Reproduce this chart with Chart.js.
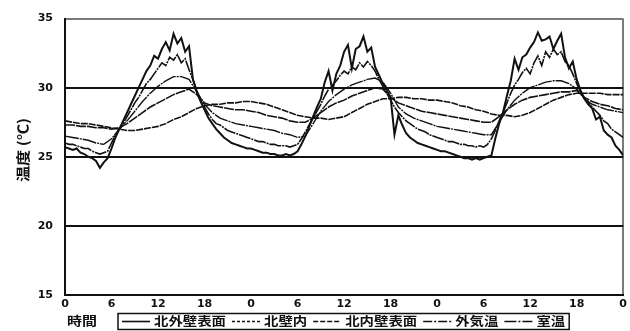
<!DOCTYPE html>
<html>
<head>
<meta charset="utf-8">
<script src="https://cdn.jsdelivr.net/npm/chart.js@4/dist/chart.umd.min.js"></script>
<style>
  html, body { margin: 0; padding: 0; background: #fff; }
  #wrap { width: 630px; height: 331px; position: relative; }
</style>
</head>
<body>
<div id="wrap"><canvas id="c" width="630" height="331"></canvas></div>
<script>
// Series names, in legend order
const seriesNames = ['北外壁表面', '北壁内', '北内壁表面', '外気温', '室温'];

// Axis ticks
const yTickValues = [15, 20, 25, 30, 35];
const xTickHours = [0, 6, 12, 18, 24, 30, 36, 42, 48, 54, 60, 66, 72];
const xTickLabels = ['0', '6', '12', '18', '0', '6', '12', '18', '0', '6', '12', '18', '0'];

// Sampling intervals (hours)
const halfHourStep = 0.5;
const hourStep = 1;

// North exterior wall surface (30-min readings, 3 days)
const northOuterSurface = [
  25.7, 25.6, 25.5, 25.6, 25.3, 25.2, 25.0, 24.9, 24.7, 24.2,
  24.6, 24.9, 25.6, 26.4, 27.0, 27.6, 28.2, 28.8, 29.4, 30.0,
  30.6, 31.2, 31.6, 32.3, 32.1, 32.8, 33.3, 32.7, 33.9, 33.2,
  33.6, 32.6, 33.0, 30.6, 29.7, 29.0, 28.4, 27.8, 27.4, 27.0,
  26.7, 26.4, 26.2, 26.0, 25.9, 25.8, 25.7, 25.6,
  25.6, 25.5, 25.4, 25.3, 25.3, 25.2, 25.2, 25.1, 25.1, 25.2,
  25.1, 25.2, 25.4, 25.9, 26.5, 27.2, 27.9, 28.6, 29.2, 30.4,
  31.2, 29.8, 31.0, 31.6, 32.6, 33.1, 31.4, 32.8, 33.0, 33.7,
  32.6, 32.9, 31.5, 30.9, 30.3, 29.8, 29.3, 26.6, 28.0, 27.3,
  26.7, 26.4, 26.2, 26.0, 25.9, 25.8, 25.7, 25.6,
  25.5, 25.4, 25.4, 25.3, 25.2, 25.1, 25.0, 24.9, 24.9, 24.8,
  24.9, 24.8, 24.9, 25.0, 25.1, 26.3, 27.4, 28.2, 29.4, 30.5,
  32.1, 31.3, 32.2, 32.4, 32.9, 33.3, 34.0, 33.4, 33.5, 33.7,
  32.8, 33.4, 33.9, 32.2, 31.4, 31.9, 30.6, 29.8, 29.2, 28.8,
  28.5, 27.7, 27.9, 26.9, 26.6, 26.4, 25.8, 25.5, 25.1
];

// Outdoor air temperature (30-min readings)
const outdoorAir = [
  26.0, 25.9, 25.9, 25.8, 25.7, 25.6, 25.6, 25.4, 25.3, 25.2,
  25.3, 25.4, 26.0, 26.6, 27.0, 27.4, 27.9, 28.4, 28.9, 29.3,
  29.8, 30.3, 30.6, 31.0, 31.4, 31.8, 31.6, 32.2, 32.0, 32.4,
  31.8, 32.1, 31.3, 30.6, 29.8, 29.1, 28.6, 28.1, 27.7, 27.4,
  27.3, 27.1, 26.9, 26.8, 26.7, 26.6, 26.5, 26.4,
  26.3, 26.2, 26.1, 26.1, 26.0, 25.9, 25.9, 25.8, 25.8, 25.8,
  25.7, 25.8, 25.9, 26.3, 26.8, 27.3, 27.8, 28.3, 28.8, 29.4,
  29.9, 30.2, 30.5, 30.9, 31.2, 31.0, 31.5, 31.3, 31.8, 31.5,
  31.9, 31.6, 31.2, 30.6, 30.1, 29.6, 29.1, 28.6, 28.2, 27.9,
  27.6, 27.4, 27.2, 27.0, 26.9, 26.8, 26.6, 26.5,
  26.4, 26.3, 26.2, 26.1, 26.1, 26.0, 25.9, 25.9, 25.8, 25.8,
  25.7, 25.8, 25.7, 25.9, 26.3, 26.9, 27.6, 28.2, 28.9, 29.6,
  30.2, 30.6, 31.1, 31.4, 31.0, 31.8, 32.3, 31.6, 32.6, 32.2,
  32.8, 32.4, 32.6, 31.9, 31.6, 31.0, 30.3, 29.7, 29.2, 28.9,
  28.6, 28.3, 28.0, 27.6, 27.4, 27.0, 26.8, 26.6, 26.4
];

// Inside the north wall (hourly)
const northWallInside = [
  27.6, 27.5, 27.4, 27.4, 27.3, 27.2, 27.1, 27.0, 26.9, 26.9, 27.0, 27.1,
  27.2, 27.4, 27.7, 27.9, 28.2, 28.5, 28.7, 28.8, 28.8, 28.9, 28.9, 29.0,
  29.0, 28.9, 28.8, 28.6, 28.4, 28.2, 28.0, 27.9, 27.8, 27.8, 27.7, 27.8,
  27.9, 28.2, 28.5, 28.8, 29.0, 29.2, 29.2, 29.3, 29.3, 29.2, 29.2, 29.1,
  29.1, 29.0, 28.9, 28.7, 28.6, 28.4, 28.3, 28.1, 28.0, 28.0, 27.9, 28.0,
  28.2, 28.5, 28.8, 29.1, 29.3, 29.5, 29.6, 29.6, 29.6, 29.6, 29.5, 29.5,
  29.5
];

// North interior wall surface (hourly)
const northInnerSurface = [
  27.3, 27.3, 27.2, 27.2, 27.1, 27.1, 27.0, 27.1, 27.4, 27.8, 28.2, 28.6,
  28.9, 29.2, 29.5, 29.7, 29.9, 29.5, 28.9, 28.7, 28.6, 28.5, 28.4, 28.4,
  28.3, 28.2, 28.0, 27.9, 27.8, 27.6, 27.5, 27.5, 27.8, 28.2, 28.6, 28.9,
  29.1, 29.4, 29.6, 29.8, 30.0, 29.9, 29.3, 28.9, 28.7, 28.5, 28.3, 28.2,
  28.1, 28.0, 27.9, 27.8, 27.7, 27.6, 27.5, 27.5, 27.9, 28.4, 28.8, 29.1,
  29.3, 29.4, 29.5, 29.6, 29.7, 29.7, 29.8, 29.3, 29.0, 28.8, 28.7, 28.5,
  28.4
];

// Room air temperature (hourly)
const roomAir = [
  26.5, 26.4, 26.3, 26.2, 26.0, 25.9, 26.3, 27.0, 27.6, 28.3, 29.0, 29.6,
  30.1, 30.5, 30.8, 30.8, 30.6, 29.7, 28.8, 28.2, 27.8, 27.6, 27.4, 27.3,
  27.2, 27.1, 27.0, 26.9, 26.7, 26.6, 26.4, 26.5, 27.4, 28.3, 29.0, 29.5,
  29.9, 30.2, 30.4, 30.6, 30.7, 30.4, 29.6, 28.6, 28.1, 27.8, 27.6, 27.4,
  27.2, 27.1, 27.0, 26.9, 26.8, 26.7, 26.6, 26.6, 27.5, 28.4, 29.1, 29.6,
  30.0, 30.2, 30.4, 30.5, 30.5, 30.3, 29.9, 29.2, 28.8, 28.6, 28.4, 28.3,
  28.2
];

function toPoints(values, step) {
  return values.map((v, i) => ({ x: i * step, y: v }));
}

const INK = '#111';
// Plot strokes keep only tiny gaps; legend samples show the pattern more clearly
const seriesStyles = [
  { width: 2.0, dash: [], legendDash: [] },
  { width: 1.6, dash: [7, 1], legendDash: [3, 2] },
  { width: 1.6, dash: [10, 1], legendDash: [5, 2] },
  { width: 1.6, dash: [12, 1, 2, 1], legendDash: [9, 2, 2, 2] },
  { width: 1.4, dash: [14, 1, 2, 1], legendDash: [12, 2, 2, 2] }
];
const seriesValues = [northOuterSurface, northWallInside, northInnerSurface, outdoorAir, roomAir];
const seriesSteps = [halfHourStep, hourStep, hourStep, halfHourStep, hourStep];

const datasets = seriesNames.map((name, i) => ({
  label: name,
  data: toPoints(seriesValues[i], seriesSteps[i]),
  borderColor: INK,
  borderWidth: seriesStyles[i].width,
  borderDash: seriesStyles[i].dash,
  pointRadius: 0,
  tension: 0,
  fill: false
})).reverse();

const CJK = '"Noto Sans CJK JP", "Noto Sans CJK SC", sans-serif';

// Draws the rotated y title, the "時間" caption and the boxed legend row
const annotations = {
  id: 'annotations',
  afterDraw(chart) {
    const ctx = chart.ctx;
    const area = chart.chartArea;
    ctx.save();
    ctx.fillStyle = INK;
    ctx.textBaseline = 'middle';

    // y title
    ctx.save();
    ctx.translate(23, 150);
    ctx.rotate(-Math.PI / 2);
    ctx.scale(1.15, 1);
    ctx.font = 'bold 14px ' + CJK;
    ctx.textAlign = 'center';
    ctx.fillText('温度 (℃)', 0, 0);
    ctx.restore();

    // x caption
    const rowY = 321.5;
    ctx.save();
    ctx.translate(area.left + 2, rowY);
    ctx.scale(1.25, 1);
    ctx.font = 'bold 12px ' + CJK;
    ctx.textAlign = 'left';
    ctx.fillText('時間', 0, 0);
    ctx.restore();

    // legend row
    const boxLeft = 118;
    const sampleLen = 28;
    const textScale = 1.2;
    ctx.font = 'bold 12px ' + CJK;
    let x = boxLeft + 4;
    seriesNames.forEach((name, i) => {
      ctx.save();
      ctx.strokeStyle = INK;
      ctx.lineWidth = 1.6;
      ctx.setLineDash(seriesStyles[i].legendDash);
      ctx.beginPath();
      ctx.moveTo(x, rowY);
      ctx.lineTo(x + sampleLen, rowY);
      ctx.stroke();
      ctx.restore();
      x += sampleLen + 4;
      const w = ctx.measureText(name).width * textScale;
      ctx.save();
      ctx.translate(x, rowY);
      ctx.scale(textScale, 1);
      ctx.textAlign = 'left';
      ctx.fillText(name, 0, 0);
      ctx.restore();
      x += w + (i < seriesNames.length - 1 ? 6 : 4);
    });
    ctx.strokeStyle = INK;
    ctx.lineWidth = 1.5;
    ctx.setLineDash([]);
    ctx.strokeRect(boxLeft, 313.5, x - boxLeft, 16);
    ctx.restore();
  }
};

new Chart(document.getElementById('c'), {
  type: 'line',
  data: { datasets },
  plugins: [annotations],
  options: {
    responsive: false,
    animation: false,
    devicePixelRatio: 1,
    layout: { padding: { top: 16, right: 6, left: 0, bottom: 0 } },
    plugins: { legend: { display: false }, tooltip: { enabled: false } },
    scales: {
      x: {
        type: 'linear',
        min: 0,
        max: 72,
        afterFit(scale) { scale.height = 36; },
        afterBuildTicks(scale) { scale.ticks = xTickHours.map(v => ({ value: v })); },
        ticks: {
          autoSkip: false,
          maxRotation: 0,
          padding: 3,
          color: INK,
          font: { family: '"DejaVu Sans"', size: 11, weight: 'bold' },
          callback: (v) => xTickLabels[xTickHours.indexOf(v)]
        },
        grid: {
          drawTicks: false,
          color: (c) => (c.tick && c.tick.value === 72 ? '#7a7a7a' : 'rgba(0,0,0,0)'),
          lineWidth: 2
        },
        border: { display: true, color: INK, width: 2 }
      },
      y: {
        min: 15,
        max: 35,
        afterFit(scale) { scale.width = 65; },
        afterBuildTicks(scale) { scale.ticks = yTickValues.map(v => ({ value: v })); },
        ticks: {
          padding: 12,
          color: INK,
          font: { family: '"DejaVu Sans"', size: 11, weight: 'bold' }
        },
        grid: {
          drawTicks: false,
          color: (c) => (c.tick && c.tick.value === 35 ? '#7a7a7a' : INK),
          lineWidth: 2
        },
        border: { display: true, color: INK, width: 2 }
      }
    }
  }
});
</script>
</body>
</html>
